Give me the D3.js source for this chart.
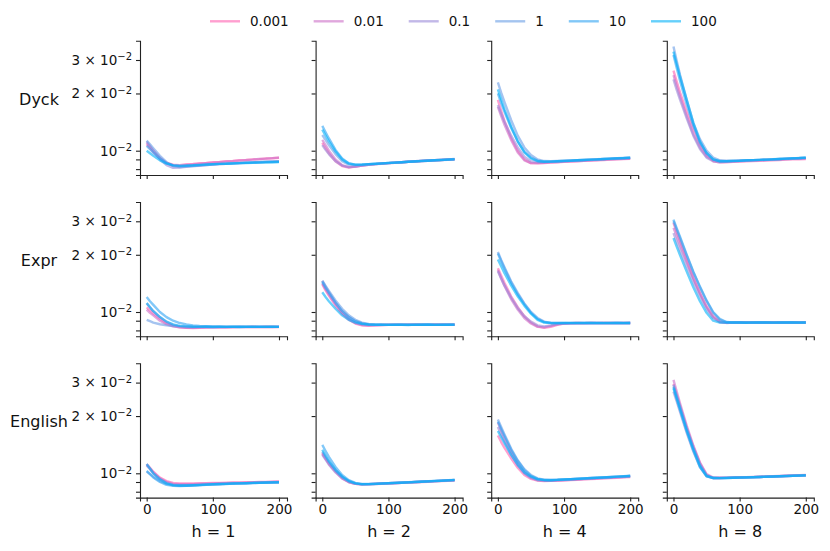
<!DOCTYPE html>
<html>
<head>
<meta charset="utf-8">
<script src="https://cdn.jsdelivr.net/npm/d3@7"></script>
<style>
  body { margin: 0; background: #fff; }
  svg { font-family: "DejaVu Sans", sans-serif; }
</style>
</head>
<body>
<div id="chart"></div>
<script>
// training steps shared by every curve
const steps = [0, 5, 10, 20, 30, 40, 50, 60, 70, 80, 90, 100, 110, 120, 130, 140, 150, 160, 170, 180, 190, 200];
const lrLabels = ["0.001", "0.01", "0.1", "1", "10", "100"];
const headLabels = ["h = 1", "h = 2", "h = 4", "h = 8"];
const taskLabels = ["Dyck", "Expr", "English"];
const xTicks = [0, 100, 200];
const yTicks = [0.008, 0.009, 0.01, 0.02, 0.03];
const yLabelled = {0.01: ["10", "\u22122"], 0.02: ["2 \u00d7 10", "\u22122"], 0.03: ["3 \u00d7 10", "\u22122"]};

// loss values in units of 1e-2, one row per lr, one block per h
const dyck = [
  [ // h = 1
    [1.08,1.03,0.98,0.91,0.865,0.845,0.84,0.848,0.852,0.86,0.862,0.87,0.872,0.88,0.884,0.89,0.893,0.9,0.903,0.91,0.912,0.918],
    [1.10,1.05,1.00,0.92,0.86,0.835,0.83,0.84,0.846,0.853,0.86,0.864,0.87,0.876,0.88,0.887,0.892,0.897,0.905,0.908,0.914,0.92],
    [1.12,1.06,1.00,0.90,0.84,0.812,0.815,0.822,0.83,0.834,0.84,0.846,0.85,0.853,0.858,0.86,0.864,0.868,0.87,0.874,0.876,0.88],
    [1.13,1.08,1.03,0.94,0.87,0.83,0.82,0.826,0.83,0.836,0.84,0.845,0.85,0.853,0.858,0.862,0.865,0.868,0.872,0.874,0.877,0.88],
    [1.06,1.02,0.98,0.91,0.86,0.835,0.83,0.832,0.836,0.84,0.845,0.848,0.852,0.855,0.858,0.86,0.863,0.866,0.868,0.87,0.872,0.874],
    [1.00,0.97,0.94,0.89,0.855,0.84,0.835,0.836,0.838,0.842,0.846,0.85,0.852,0.854,0.857,0.86,0.862,0.864,0.866,0.868,0.87,0.871]
  ],
  [ // h = 2
    [1.10,1.03,0.97,0.88,0.83,0.815,0.825,0.835,0.843,0.85,0.855,0.86,0.864,0.87,0.874,0.878,0.882,0.886,0.89,0.894,0.897,0.90],
    [1.14,1.07,1.00,0.90,0.84,0.82,0.826,0.836,0.845,0.85,0.856,0.86,0.866,0.87,0.875,0.88,0.884,0.888,0.891,0.895,0.899,0.903],
    [1.07,1.01,0.96,0.88,0.835,0.82,0.826,0.835,0.843,0.85,0.854,0.86,0.864,0.868,0.873,0.877,0.881,0.885,0.889,0.892,0.896,0.90],
    [1.21,1.14,1.07,0.96,0.88,0.845,0.84,0.842,0.846,0.85,0.855,0.86,0.865,0.87,0.874,0.879,0.883,0.887,0.89,0.894,0.898,0.90],
    [1.35,1.25,1.16,1.01,0.91,0.86,0.845,0.845,0.85,0.854,0.858,0.863,0.866,0.87,0.875,0.88,0.884,0.888,0.891,0.895,0.899,0.904],
    [1.29,1.20,1.12,0.99,0.90,0.855,0.845,0.846,0.85,0.854,0.858,0.862,0.866,0.87,0.874,0.878,0.882,0.886,0.89,0.894,0.897,0.90]
  ],
  [ // h = 4
    [1.85,1.62,1.43,1.17,1.00,0.90,0.86,0.858,0.862,0.866,0.87,0.874,0.878,0.88,0.884,0.888,0.89,0.894,0.897,0.90,0.903,0.906],
    [1.70,1.52,1.37,1.14,0.98,0.89,0.86,0.86,0.864,0.868,0.872,0.876,0.88,0.883,0.886,0.89,0.893,0.897,0.90,0.904,0.907,0.91],
    [1.74,1.57,1.42,1.20,1.04,0.93,0.88,0.87,0.87,0.873,0.876,0.88,0.884,0.887,0.89,0.894,0.897,0.90,0.904,0.907,0.91,0.914],
    [2.29,2.02,1.80,1.45,1.20,1.04,0.95,0.90,0.882,0.88,0.882,0.885,0.888,0.891,0.895,0.898,0.902,0.905,0.908,0.912,0.915,0.92],
    [2.00,1.78,1.60,1.32,1.12,0.99,0.92,0.886,0.876,0.876,0.88,0.884,0.887,0.89,0.894,0.898,0.90,0.905,0.908,0.912,0.915,0.918],
    [2.10,1.86,1.65,1.34,1.12,0.98,0.91,0.88,0.875,0.876,0.88,0.883,0.886,0.89,0.894,0.897,0.90,0.904,0.908,0.911,0.914,0.918]
  ],
  [ // h = 8
    [2.64,2.30,2.02,1.60,1.30,1.08,0.95,0.88,0.868,0.87,0.874,0.876,0.88,0.882,0.885,0.888,0.89,0.894,0.897,0.90,0.902,0.905],
    [2.50,2.18,1.92,1.52,1.22,1.04,0.93,0.89,0.875,0.876,0.88,0.883,0.886,0.889,0.892,0.895,0.898,0.90,0.904,0.907,0.91,0.912],
    [2.37,2.08,1.85,1.48,1.20,1.02,0.92,0.88,0.87,0.874,0.878,0.882,0.885,0.888,0.89,0.894,0.897,0.90,0.903,0.906,0.909,0.912],
    [3.53,2.95,2.50,1.85,1.40,1.15,1.00,0.92,0.89,0.885,0.885,0.886,0.889,0.892,0.895,0.898,0.90,0.905,0.908,0.911,0.915,0.92],
    [3.19,2.72,2.33,1.75,1.35,1.10,0.97,0.90,0.88,0.88,0.883,0.886,0.889,0.892,0.895,0.898,0.90,0.904,0.908,0.911,0.914,0.918],
    [3.32,2.85,2.45,1.85,1.40,1.12,0.97,0.90,0.88,0.88,0.884,0.886,0.89,0.892,0.895,0.898,0.902,0.905,0.908,0.912,0.915,0.92]
  ]
];

const expr = [
  [ // h = 1
    [1.057,1.02,0.98,0.92,0.87,0.845,0.83,0.825,0.824,0.826,0.828,0.83,0.83,0.832,0.832,0.833,0.833,0.834,0.833,0.834,0.834,0.834],
    [1.03,0.99,0.96,0.90,0.86,0.84,0.83,0.826,0.826,0.828,0.83,0.831,0.832,0.832,0.833,0.834,0.833,0.834,0.834,0.835,0.834,0.835],
    [1.11,1.06,1.01,0.94,0.885,0.855,0.84,0.834,0.832,0.833,0.834,0.834,0.835,0.834,0.835,0.835,0.836,0.835,0.835,0.836,0.835,0.835],
    [0.91,0.895,0.88,0.862,0.85,0.844,0.84,0.838,0.837,0.836,0.836,0.835,0.836,0.835,0.835,0.836,0.835,0.836,0.835,0.835,0.836,0.835],
    [1.20,1.14,1.09,1.00,0.94,0.90,0.875,0.86,0.85,0.845,0.842,0.84,0.838,0.837,0.836,0.836,0.835,0.836,0.835,0.836,0.835,0.836],
    [1.115,1.06,1.01,0.94,0.89,0.86,0.845,0.84,0.836,0.835,0.836,0.834,0.836,0.835,0.837,0.834,0.836,0.835,0.837,0.835,0.836,0.835]
  ],
  [ // h = 2
    [1.40,1.30,1.22,1.08,0.98,0.91,0.87,0.852,0.846,0.85,0.854,0.856,0.856,0.857,0.856,0.858,0.857,0.856,0.858,0.857,0.858,0.857],
    [1.42,1.32,1.24,1.10,0.99,0.92,0.875,0.855,0.85,0.852,0.855,0.856,0.857,0.856,0.858,0.857,0.856,0.858,0.857,0.858,0.857,0.858],
    [1.46,1.36,1.27,1.12,1.01,0.94,0.895,0.87,0.86,0.856,0.856,0.857,0.858,0.856,0.857,0.858,0.857,0.856,0.858,0.857,0.856,0.858],
    [1.46,1.37,1.29,1.15,1.04,0.96,0.91,0.88,0.865,0.86,0.857,0.856,0.858,0.857,0.856,0.857,0.858,0.857,0.856,0.858,0.857,0.857],
    [1.44,1.34,1.26,1.12,1.01,0.94,0.895,0.87,0.86,0.858,0.857,0.858,0.856,0.857,0.858,0.856,0.857,0.858,0.857,0.856,0.858,0.857],
    [1.27,1.20,1.14,1.04,0.96,0.91,0.88,0.865,0.86,0.857,0.858,0.856,0.858,0.857,0.855,0.858,0.857,0.859,0.856,0.858,0.857,0.858]
  ],
  [ // h = 4
    [1.70,1.55,1.42,1.21,1.06,0.95,0.88,0.84,0.825,0.835,0.855,0.868,0.872,0.874,0.873,0.875,0.874,0.876,0.875,0.874,0.876,0.875],
    [1.66,1.50,1.37,1.17,1.03,0.93,0.87,0.835,0.83,0.845,0.862,0.87,0.873,0.875,0.874,0.876,0.875,0.874,0.876,0.875,0.874,0.876],
    [1.64,1.50,1.38,1.19,1.05,0.95,0.89,0.85,0.84,0.85,0.865,0.872,0.874,0.875,0.876,0.874,0.875,0.876,0.874,0.875,0.876,0.875],
    [2.07,1.88,1.72,1.45,1.26,1.11,1.00,0.93,0.89,0.877,0.875,0.874,0.876,0.875,0.874,0.876,0.875,0.877,0.874,0.876,0.875,0.876],
    [2.03,1.85,1.69,1.43,1.24,1.10,0.99,0.92,0.885,0.876,0.875,0.876,0.874,0.876,0.875,0.877,0.874,0.876,0.875,0.876,0.874,0.876],
    [1.89,1.74,1.60,1.38,1.21,1.08,0.98,0.91,0.88,0.875,0.874,0.876,0.875,0.874,0.877,0.875,0.876,0.874,0.877,0.875,0.876,0.875]
  ],
  [ // h = 8
    [2.94,2.62,2.35,1.88,1.52,1.26,1.07,0.95,0.89,0.878,0.879,0.88,0.879,0.881,0.88,0.879,0.881,0.88,0.879,0.88,0.881,0.88],
    [2.77,2.50,2.26,1.84,1.50,1.25,1.06,0.94,0.885,0.876,0.879,0.88,0.881,0.879,0.88,0.881,0.879,0.88,0.881,0.88,0.879,0.88],
    [2.60,2.35,2.12,1.74,1.44,1.21,1.04,0.93,0.885,0.878,0.88,0.879,0.881,0.88,0.879,0.88,0.881,0.88,0.879,0.881,0.88,0.88],
    [3.00,2.70,2.44,1.98,1.62,1.35,1.14,0.99,0.91,0.885,0.88,0.881,0.879,0.88,0.881,0.88,0.879,0.881,0.88,0.88,0.881,0.879],
    [3.06,2.75,2.48,2.00,1.63,1.36,1.15,1.00,0.92,0.886,0.88,0.881,0.88,0.879,0.882,0.88,0.881,0.879,0.882,0.88,0.881,0.88],
    [2.45,2.20,1.99,1.63,1.35,1.14,0.99,0.90,0.88,0.879,0.881,0.88,0.878,0.882,0.88,0.881,0.879,0.882,0.88,0.881,0.879,0.881]
  ]
];

const english = [
  [ // h = 1
    [1.12,1.07,1.02,0.95,0.91,0.89,0.885,0.884,0.885,0.886,0.888,0.89,0.891,0.893,0.894,0.895,0.897,0.898,0.90,0.901,0.903,0.905],
    [1.11,1.06,1.01,0.94,0.90,0.88,0.875,0.875,0.877,0.88,0.882,0.884,0.886,0.888,0.89,0.891,0.893,0.895,0.897,0.898,0.90,0.902],
    [1.10,1.05,1.00,0.93,0.89,0.87,0.865,0.865,0.868,0.871,0.874,0.877,0.879,0.882,0.884,0.886,0.888,0.89,0.892,0.894,0.896,0.898],
    [1.02,0.99,0.96,0.91,0.88,0.865,0.86,0.86,0.864,0.867,0.871,0.874,0.877,0.88,0.882,0.885,0.887,0.889,0.891,0.893,0.895,0.897],
    [1.03,0.99,0.95,0.90,0.87,0.86,0.858,0.86,0.863,0.866,0.87,0.873,0.876,0.879,0.882,0.884,0.886,0.888,0.89,0.892,0.894,0.896],
    [1.12,1.06,1.00,0.93,0.885,0.867,0.862,0.862,0.865,0.868,0.872,0.875,0.878,0.88,0.883,0.885,0.887,0.89,0.892,0.894,0.896,0.898]
  ],
  [ // h = 2
    [1.27,1.19,1.12,1.02,0.94,0.90,0.88,0.874,0.876,0.878,0.881,0.884,0.887,0.89,0.893,0.896,0.90,0.903,0.907,0.91,0.914,0.918],
    [1.28,1.20,1.13,1.03,0.95,0.90,0.88,0.875,0.877,0.88,0.883,0.886,0.889,0.892,0.896,0.90,0.903,0.906,0.91,0.913,0.917,0.92],
    [1.25,1.18,1.11,1.01,0.94,0.90,0.88,0.875,0.877,0.88,0.883,0.886,0.889,0.892,0.895,0.898,0.902,0.905,0.909,0.912,0.916,0.92],
    [1.30,1.22,1.15,1.04,0.96,0.91,0.885,0.876,0.877,0.88,0.883,0.887,0.89,0.893,0.896,0.90,0.903,0.907,0.91,0.914,0.918,0.922],
    [1.41,1.31,1.22,1.08,0.98,0.92,0.89,0.88,0.88,0.882,0.885,0.888,0.891,0.894,0.898,0.901,0.905,0.908,0.912,0.915,0.919,0.924],
    [1.33,1.24,1.16,1.04,0.96,0.91,0.885,0.875,0.876,0.879,0.882,0.886,0.889,0.892,0.896,0.90,0.903,0.907,0.911,0.914,0.918,0.922]
  ],
  [ // h = 4
    [1.58,1.46,1.36,1.20,1.07,0.98,0.935,0.915,0.91,0.912,0.915,0.918,0.922,0.925,0.929,0.932,0.936,0.94,0.944,0.948,0.952,0.956],
    [1.85,1.68,1.53,1.30,1.13,1.01,0.95,0.92,0.912,0.913,0.916,0.92,0.924,0.928,0.932,0.936,0.94,0.944,0.948,0.952,0.956,0.96],
    [1.75,1.60,1.47,1.26,1.10,1.00,0.945,0.92,0.915,0.916,0.919,0.923,0.927,0.931,0.935,0.939,0.943,0.947,0.951,0.955,0.959,0.963],
    [1.92,1.75,1.60,1.35,1.17,1.05,0.98,0.94,0.925,0.922,0.924,0.928,0.932,0.936,0.94,0.944,0.948,0.952,0.956,0.96,0.964,0.968],
    [1.87,1.71,1.57,1.33,1.16,1.04,0.97,0.935,0.924,0.922,0.924,0.928,0.932,0.936,0.94,0.944,0.948,0.952,0.956,0.96,0.965,0.97],
    [1.67,1.55,1.44,1.25,1.11,1.01,0.96,0.93,0.92,0.92,0.923,0.927,0.931,0.935,0.939,0.943,0.947,0.951,0.955,0.96,0.964,0.968]
  ],
  [ // h = 8
    [2.95,2.57,2.26,1.74,1.38,1.13,0.98,0.945,0.944,0.946,0.948,0.95,0.952,0.955,0.957,0.96,0.962,0.965,0.968,0.97,0.973,0.976],
    [3.10,2.68,2.33,1.78,1.40,1.14,0.99,0.95,0.947,0.948,0.95,0.952,0.955,0.957,0.96,0.962,0.965,0.968,0.97,0.973,0.976,0.98],
    [2.69,2.38,2.10,1.63,1.30,1.08,0.965,0.945,0.944,0.946,0.948,0.95,0.952,0.955,0.957,0.96,0.962,0.965,0.967,0.97,0.973,0.976],
    [2.92,2.55,2.24,1.72,1.36,1.11,0.975,0.945,0.944,0.946,0.948,0.95,0.952,0.955,0.957,0.96,0.962,0.965,0.968,0.97,0.973,0.976],
    [2.85,2.50,2.20,1.70,1.35,1.10,0.97,0.944,0.943,0.945,0.947,0.95,0.952,0.954,0.957,0.959,0.962,0.964,0.967,0.97,0.972,0.975],
    [2.80,2.45,2.15,1.66,1.32,1.08,0.965,0.944,0.943,0.945,0.947,0.949,0.951,0.954,0.956,0.959,0.961,0.964,0.966,0.969,0.972,0.975]
  ]
];

const lossByTask = [dyck, expr, english];
const unit = 1e-2;

const width = 830, height = 551;
const panelW = 147, panelH = 134.3;
const left0 = 140, colStep = 175.6;
const top0 = 40.7, rowStep = 161.3;

const svg = d3.select("#chart").append("svg")
    .attr("width", width)
    .attr("height", height);

const color = d3.scaleOrdinal()
    .domain(lrLabels)
    .range(["#ff61b1", "#cd6ec8", "#9b89d9", "#699de6", "#2fa3f3", "#00b1fa"]);

const x = d3.scaleLinear().domain([-10.1, 212.1]).range([0, panelW]);
const y = d3.scaleLog().domain([0.00745, 0.0379]).range([panelH, 0]);

const line = d3.line()
    .x((d, i) => x(steps[i]))
    .y(d => y(d * unit));

lossByTask.forEach((task, r) => {
    task.forEach((panel, c) => {
        const g = svg.append("g")
            .attr("transform", "translate(" + (left0 + c * colStep) + "," + (top0 + r * rowStep) + ")");

        panel.forEach((series, k) => {
            g.append("path")
                .datum(series)
                .attr("d", line)
                .attr("fill", "none")
                .attr("stroke", color(lrLabels[k]))
                .attr("stroke-width", 2.4)
                .attr("stroke-linejoin", "round")
                .attr("opacity", 0.6);
        });

        const xAxis = g.append("g")
            .attr("transform", "translate(0," + panelH + ")")
            .call(d3.axisBottom(x).tickValues(xTicks).tickSizeOuter(0).tickSize(4).tickPadding(3)
                .tickFormat(r === 2 ? d3.format("d") : () => ""));

        const yAxis = g.append("g")
            .call(d3.axisLeft(y).tickValues(yTicks).tickSizeOuter(0).tickSize(4).tickPadding(4)
                .tickFormat(() => ""));

        [xAxis, yAxis].forEach(a => {
            a.attr("font-size", null).attr("font-family", null);
            a.select(".domain").attr("stroke", "#222").attr("stroke-width", 1.1);
            a.selectAll(".tick line").attr("stroke", "#222").attr("stroke-width", 1.1);
            a.selectAll("text").attr("fill", "#111").style("font-size", "13.5px");
        });

        if (c === 0) {
            yAxis.selectAll(".tick text").each(function (v) {
                const lab = yLabelled[v];
                if (!lab) return;
                const t = d3.select(this);
                t.append("tspan").text(lab[0]);
                t.append("tspan").text(lab[1])
                    .attr("dy", "-0.45em")
                    .style("font-size", "10px");
            });
        }
    });

    svg.append("text")
        .attr("x", 39)
        .attr("y", top0 + r * rowStep + panelH / 2 - 3)
        .attr("text-anchor", "middle")
        .style("font-size", "16px")
        .attr("fill", "#111")
        .text(taskLabels[r]);
});

headLabels.forEach((h, c) => {
    svg.append("text")
        .attr("x", left0 + c * colStep + panelW / 2)
        .attr("y", 537)
        .attr("text-anchor", "middle")
        .style("font-size", "16px")
        .attr("fill", "#111")
        .text(h);
});

// legend across the top
const legend = svg.append("g").attr("transform", "translate(210,21.3)");
let lx = 0;
lrLabels.forEach(lr => {
    legend.append("line")
        .attr("x1", lx).attr("x2", lx + 30)
        .attr("stroke", color(lr))
        .attr("stroke-width", 2.4)
        .attr("opacity", 0.6);
    const t = legend.append("text")
        .attr("x", lx + 40)
        .attr("y", 4.8)
        .style("font-size", "13.5px")
        .attr("fill", "#111")
        .text(lr);
    lx += 40 + t.node().getComputedTextLength() + 25;
});
</script>
</body>
</html>
